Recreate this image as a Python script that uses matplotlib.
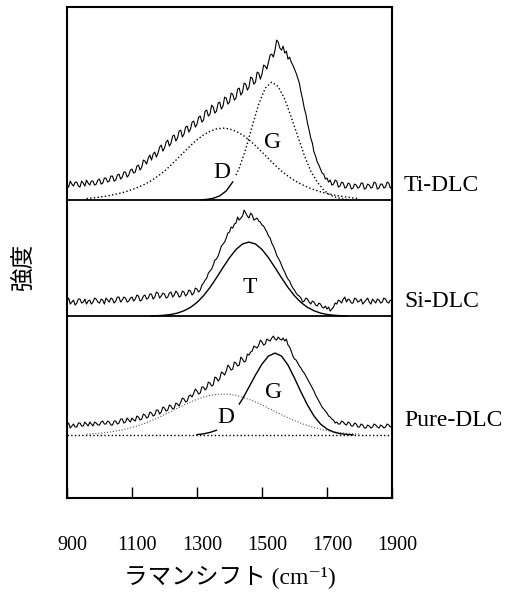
import matplotlib
matplotlib.use("Agg")
import matplotlib.pyplot as plt
import matplotlib.transforms as mtransforms

plt.rcParams['font.family'] = ['Liberation Serif', 'DejaVu Serif', 'Noto Sans CJK JP']

# Raman shift grid for the measured spectra (cm-1)
shift = list(range(900, 1901, 5))

ti_spec = [15, 13, 19, 16, 14, 18, 18, 14, 13, 19, 17, 14, 20, 17, 15, 19, 19, 15, 16, 20,
           21, 16, 17, 22, 22, 18, 19, 24, 24, 19, 20, 25, 26, 21, 23, 28, 28, 23, 25, 30,
           31, 27, 28, 34, 35, 30, 33, 40, 39, 36, 42, 45, 40, 46, 48, 43, 47, 53, 55, 49,
           52, 58, 60, 54, 57, 64, 65, 59, 62, 69, 70, 63, 66, 73, 74, 68, 71, 78, 79, 73,
           76, 83, 84, 78, 80, 89, 90, 84, 86, 95, 93, 87, 89, 97, 98, 91, 94, 103, 102, 96,
           98, 107, 106, 100, 102, 111, 112, 105, 108, 117, 116, 110, 113, 123, 122, 116, 118, 128, 127, 121,
           126, 135, 134, 131, 138, 145, 146, 143, 150, 160, 158, 152, 150, 154, 147, 149, 141, 143, 138, 135,
           131, 127, 122, 117, 108, 101, 92, 86, 77, 70, 62, 57, 48, 44, 38, 35, 31, 27, 26, 21,
           22, 18, 20, 15, 16, 20, 19, 13, 14, 18, 17, 12, 13, 17, 16, 11, 12, 16, 15, 12,
           13, 17, 17, 11, 12, 16, 15, 12, 13, 18, 17, 11, 12, 16, 16, 12, 13, 18, 17, 12, 14]
si_spec = [15, 18, 12, 14, 16, 11, 13, 17, 17, 13, 14, 17, 12, 15, 16, 12, 14, 18, 17, 14,
           13, 17, 16, 12, 18, 16, 14, 18, 17, 13, 15, 19, 19, 14, 16, 19, 18, 14, 15, 18,
           19, 15, 17, 21, 20, 15, 16, 20, 21, 17, 18, 22, 22, 17, 19, 24, 23, 18, 20, 23,
           22, 18, 19, 23, 24, 19, 21, 25, 23, 19, 20, 25, 24, 20, 22, 26, 25, 21, 23, 28,
           27, 24, 26, 31, 33, 36, 38, 43, 45, 47, 51, 56, 57, 60, 65, 70, 72, 74, 78, 83,
           84, 89, 88, 92, 93, 99, 96, 98, 100, 106, 103, 100, 98, 103, 101, 96, 97, 98, 95, 94,
           91, 90, 87, 84, 80, 78, 73, 70, 66, 61, 58, 55, 51, 47, 44, 40, 37, 35, 31, 28,
           26, 23, 21, 20, 18, 14, 15, 18, 17, 14, 12, 15, 14, 11, 10, 13, 12, 9, 8, 10,
           7, 9, 5, 7, 9, 13, 12, 16, 15, 13, 17, 19, 14, 17, 16, 13, 13, 18, 17, 14,
           15, 17, 12, 14, 16, 18, 14, 12, 17, 15, 13, 17, 16, 13, 14, 18, 17, 14, 13, 16, 15]
pure_spec = [10, 12, 7, 9, 11, 8, 8, 12, 12, 9, 9, 13, 11, 9, 13, 11, 9, 13, 12, 10,
             10, 13, 14, 11, 11, 14, 13, 10, 10, 14, 14, 11, 12, 16, 16, 12, 13, 17, 15, 13,
             17, 15, 14, 19, 18, 15, 16, 21, 20, 17, 18, 23, 22, 19, 20, 25, 25, 21, 23, 28,
             27, 24, 25, 30, 29, 26, 27, 32, 31, 29, 33, 37, 36, 33, 34, 39, 40, 38, 42, 46,
             44, 41, 42, 48, 48, 45, 47, 53, 52, 49, 50, 58, 57, 54, 56, 63, 62, 60, 64, 70,
             68, 65, 66, 73, 72, 69, 70, 78, 76, 73, 74, 81, 80, 83, 84, 89, 88, 87, 90, 95,
             93, 90, 91, 96, 95, 94, 97, 99, 96, 95, 98, 96, 95, 97, 94, 96, 90, 88, 84, 79,
             76, 75, 72, 69, 67, 64, 62, 59, 56, 53, 50, 47, 44, 40, 37, 34, 31, 28, 26, 24,
             22, 19, 18, 16, 15, 12, 13, 11, 11, 14, 13, 11, 10, 13, 12, 9, 9, 12, 11, 8,
             8, 11, 10, 7, 7, 10, 9, 7, 8, 11, 10, 8, 7, 10, 9, 7, 8, 11, 10, 8, 9]

# fitted components
d_x = list(range(960, 1801, 20))
ti_d = [1.5, 2.2, 3.0, 4.0, 5.2, 6.6, 8.3, 10.5, 13, 16, 19.5, 24, 29, 35,
        41.5, 48, 54.5, 60.3, 65.2, 68.8, 71.2, 72, 71.2, 68.8, 65.2, 60.3,
        54.5, 48, 41.5, 35, 29, 24, 19.5, 16, 13, 10.5, 8.3, 6.6, 5.2, 4.0,
        3.0, 2.2, 1.5]
pure_d = [0.9, 1.3, 1.8, 2.5, 3.4, 4.5, 5.9, 7.5, 9.5, 11.8, 14.4, 17.3,
          20.3, 23.6, 26.8, 30.1, 33.0, 35.7, 37.9, 39.6, 40.6, 41, 40.6,
          39.6, 37.9, 35.7, 33.0, 30.1, 26.8, 23.6, 20.3, 17.3, 14.4, 11.8,
          9.5, 7.5, 5.9, 4.5, 3.4, 2.5, 1.8, 1.3, 0.9]

ti_g_tail_x = [1310, 1330, 1350, 1370, 1390, 1410]
ti_g_tail = [0.2, 0.7, 1.8, 4.2, 9.2, 18.2]
ti_g_x = [1420, 1430, 1450, 1470, 1490, 1510, 1530, 1550, 1570, 1590, 1610,
          1630, 1650, 1670, 1690, 1710, 1730, 1750, 1770]
ti_g = [25, 32, 51, 74, 96, 112, 118, 113.5, 101, 83, 64, 45, 29, 18, 10,
        5, 2.5, 1, 0.3]

si_t_x = list(range(1160, 1761, 20))
si_t = [0.2, 0.4, 0.85, 1.6, 3.0, 5.3, 8.7, 13.6, 20.3, 28.6, 38.3, 48.5,
        58.3, 66.6, 72.1, 74, 72.1, 66.6, 58.3, 48.5, 38.3, 28.6, 20.3,
        13.6, 8.7, 5.3, 3.0, 1.6, 0.85, 0.4, 0.2]

pure_g_tail_x = [1300, 1320, 1340, 1360]
pure_g_tail = [0.4, 1.2, 2.6, 4.8]
pure_g_x = [1430, 1440, 1460, 1480, 1500, 1520, 1540, 1560, 1580, 1600, 1620,
            1640, 1660, 1680, 1700, 1720, 1740, 1760, 1780]
pure_g = [31, 36, 48, 60, 71, 79, 82, 79, 70, 57, 43, 30, 19, 11, 6, 3,
          1.4, 0.6, 0.2]

# baselines of the stacked spectra
ti_base = 298
si_base = 182
pure_base = 63

samples = ["Ti-DLC", "Si-DLC", "Pure-DLC"]
xticks = [900, 1100, 1300, 1500, 1700, 1900]


def shifted(values, base):
    return [v + base for v in values]


def main():
    fig = plt.figure(figsize=(5.13, 5.95), dpi=100)
    ax = fig.add_axes([0.1306, 0.163, 0.6335, 0.825])

    # Ti-DLC
    ax.axhline(ti_base, color="black", lw=1.3)
    ax.plot(shift, shifted(ti_spec, ti_base), color="black", lw=0.8)
    ax.plot(d_x, shifted(ti_d, ti_base), color="black", lw=1.0, ls=":")
    ax.plot(ti_g_tail_x, shifted(ti_g_tail, ti_base), color="black", lw=1.0)
    ax.plot(ti_g_x, shifted(ti_g, ti_base), color="black", lw=1.0, ls=":")

    # Si-DLC
    ax.axhline(si_base, color="black", lw=1.3)
    ax.plot(shift, shifted(si_spec, si_base), color="black", lw=0.8)
    ax.plot(si_t_x, shifted(si_t, si_base), color="black", lw=1.0)

    # Pure-DLC
    ax.axhline(pure_base, color="black", lw=1.0, ls=":")
    ax.plot(shift, shifted(pure_spec, pure_base), color="black", lw=0.8)
    ax.plot(d_x, shifted(pure_d, pure_base), color="#555555", lw=0.8, ls=":")
    ax.plot(pure_g_tail_x, shifted(pure_g_tail, pure_base), color="black", lw=1.0)
    ax.plot(pure_g_x, shifted(pure_g, pure_base), color="black", lw=1.0)

    # peak labels
    ax.text(1378, ti_base + 28, "D", fontsize=17, ha="center", va="center")
    ax.text(1532, ti_base + 58, "G", fontsize=17, ha="center", va="center")
    ax.text(1461, si_base + 29, "T", fontsize=17, ha="center", va="center")
    ax.text(1388, pure_base + 18, "D", fontsize=17, ha="center", va="center")
    ax.text(1535, pure_base + 43, "G", fontsize=17, ha="center", va="center")

    # sample names right of the frame
    for name, base in zip(samples, [ti_base, si_base, pure_base]):
        ax.text(1.037, base + 15, name, transform=ax.get_yaxis_transform(),
                fontsize=17, ha="left", va="center", clip_on=False)

    ax.set_xlim(900, 1900)
    ax.set_ylim(0, 491)
    ax.set_xticks(xticks)
    ax.set_xticklabels([str(t) for t in xticks], fontsize=14.5)
    ax.set_yticks([])
    ax.tick_params(axis="x", direction="in", length=8, width=1, pad=27)
    offset = mtransforms.ScaledTranslation(5 / 100, 0, fig.dpi_scale_trans)
    for lab in ax.get_xticklabels():
        lab.set_transform(lab.get_transform() + offset)
    for sp in ax.spines.values():
        sp.set_linewidth(1.5)

    ax.set_xlabel("ラマンシフト (cm⁻¹)", fontsize=17, labelpad=8)
    fig.text(0.047, 0.553, "強度", rotation=90, fontsize=17,
             ha="center", va="center", family="Noto Sans CJK JP")

    fig.savefig("out.png", dpi=100)


if __name__ == '__main__':
    main()
